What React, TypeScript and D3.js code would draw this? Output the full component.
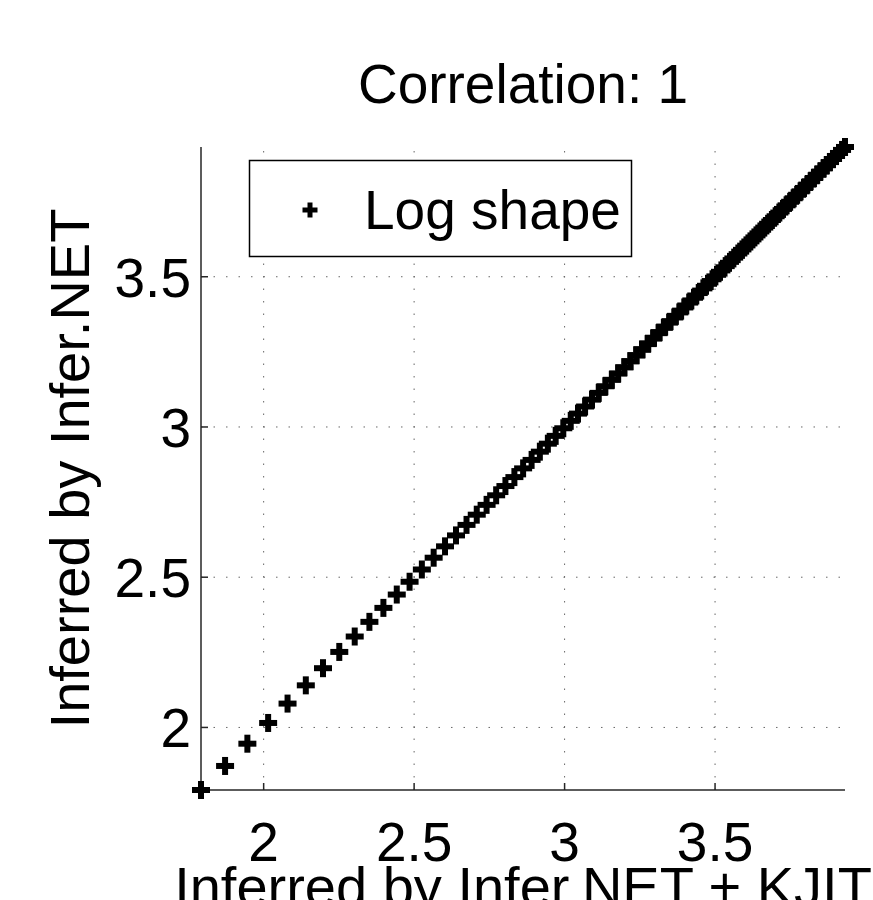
import React from "react";
import * as d3 from "d3";

// Posterior log-shape estimates; both inference runs agree point for point.
const kjitValues = [
  1.7918, 1.8718, 1.9459, 2.0149, 2.0794, 2.1401, 2.1972, 2.2513, 2.3026, 2.3514,
  2.3979, 2.4423, 2.4849, 2.5257, 2.5649, 2.6027, 2.6391, 2.6741, 2.7081, 2.7408,
  2.7726, 2.8034, 2.8332, 2.8622, 2.8904, 2.9178, 2.9444, 2.9704, 2.9957, 3.0204,
  3.0445, 3.0681, 3.091, 3.1135, 3.1355, 3.157, 3.1781, 3.1987, 3.2189, 3.2387,
  3.2581, 3.2771, 3.2958, 3.3142, 3.3322, 3.3499, 3.3673, 3.3844, 3.4012, 3.4177,
  3.434, 3.45, 3.4657, 3.4812, 3.4965, 3.5115, 3.5264, 3.541, 3.5553, 3.5695,
  3.5835, 3.5973, 3.6109, 3.6243, 3.6376, 3.6507, 3.6636, 3.6763, 3.6889, 3.7013,
  3.7136, 3.7257, 3.7377, 3.7495, 3.7612, 3.7728, 3.7842, 3.7955, 3.8067, 3.8177,
  3.8286, 3.8395, 3.8501, 3.8607, 3.8712, 3.8816, 3.8918, 3.902, 3.912, 3.922,
  3.9318,
];
const inferNetValues = [
  1.7918, 1.8718, 1.9459, 2.0149, 2.0794, 2.1401, 2.1972, 2.2513, 2.3026, 2.3514,
  2.3979, 2.4423, 2.4849, 2.5257, 2.5649, 2.6027, 2.6391, 2.6741, 2.7081, 2.7408,
  2.7726, 2.8034, 2.8332, 2.8622, 2.8904, 2.9178, 2.9444, 2.9704, 2.9957, 3.0204,
  3.0445, 3.0681, 3.091, 3.1135, 3.1355, 3.157, 3.1781, 3.1987, 3.2189, 3.2387,
  3.2581, 3.2771, 3.2958, 3.3142, 3.3322, 3.3499, 3.3673, 3.3844, 3.4012, 3.4177,
  3.434, 3.45, 3.4657, 3.4812, 3.4965, 3.5115, 3.5264, 3.541, 3.5553, 3.5695,
  3.5835, 3.5973, 3.6109, 3.6243, 3.6376, 3.6507, 3.6636, 3.6763, 3.6889, 3.7013,
  3.7136, 3.7257, 3.7377, 3.7495, 3.7612, 3.7728, 3.7842, 3.7955, 3.8067, 3.8177,
  3.8286, 3.8395, 3.8501, 3.8607, 3.8712, 3.8816, 3.8918, 3.902, 3.912, 3.922,
  3.9318,
];
const xTicks = [2, 2.5, 3, 3.5];
const yTicks = [2, 2.5, 3, 3.5];
const xDomain = [1.7918, 3.9318];
const yDomain = [1.7918, 3.9318];

const titleText = "Correlation: 1";
const xLabel = "Inferred by Infer.NET + KJIT";
const yLabel = "Inferred by Infer.NET";
const legendLabel = "Log shape";

const W = 873;
const H = 900;
const plot = { left: 201, right: 845, top: 147, bottom: 790 };
const FONT = "'Liberation Sans', Arial, Helvetica, sans-serif";
const FS = 55;

function Plus({ x, y, size, sw }: { x: number; y: number; size: number; sw: number }) {
  const h = size / 2;
  return (
    <g>
      <line x1={x - h} x2={x + h} y1={y} y2={y} stroke="#000" strokeWidth={sw} />
      <line x1={x} x2={x} y1={y - h} y2={y + h} stroke="#000" strokeWidth={sw} />
    </g>
  );
}

export default function App() {
  const x = d3.scaleLinear().domain(xDomain).range([plot.left, plot.right]);
  const y = d3.scaleLinear().domain(yDomain).range([plot.bottom, plot.top]);
  const fmt = d3.format("~g");
  const cx = (plot.left + plot.right) / 2;
  const cy = (plot.top + plot.bottom) / 2;

  return (
    <svg
      width={W}
      height={H}
      style={{ position: "absolute", left: 0, top: 0, background: "#fff" }}
      fontFamily={FONT}
    >
      <rect x={0} y={0} width={W} height={H} fill="#fff" />

      {/* dotted grid */}
      <g stroke="#666" strokeWidth={1} strokeDasharray="1.5 11">
        {xTicks.map((t) => (
          <line key={"gx" + t} x1={x(t)} x2={x(t)} y1={plot.bottom} y2={plot.top} />
        ))}
        {yTicks.map((t) => (
          <line key={"gy" + t} x1={plot.left} x2={plot.right} y1={y(t)} y2={y(t)} />
        ))}
      </g>

      {/* axes */}
      <g stroke="#262626" strokeWidth={1.5}>
        <line x1={plot.left} x2={plot.left} y1={plot.top} y2={plot.bottom} />
        <line x1={plot.left} x2={plot.right} y1={plot.bottom} y2={plot.bottom} />
        {xTicks.map((t) => (
          <line key={"tx" + t} x1={x(t)} x2={x(t)} y1={plot.bottom} y2={plot.bottom - 7} />
        ))}
        {yTicks.map((t) => (
          <line key={"ty" + t} x1={plot.left} x2={plot.left + 7} y1={y(t)} y2={y(t)} />
        ))}
      </g>

      {/* tick labels */}
      <g fontSize={FS} fill="#000">
        {xTicks.map((t) => (
          <text key={"lx" + t} x={x(t)} y={861} textAnchor="middle">
            {fmt(t)}
          </text>
        ))}
        {yTicks.map((t) => (
          <text key={"ly" + t} x={191} y={y(t) + 20} textAnchor="end">
            {fmt(t)}
          </text>
        ))}
      </g>

      {/* points */}
      <g>
        {kjitValues.map((v, i) => (
          <Plus key={i} x={x(v)} y={y(inferNetValues[i])} size={18} sw={6} />
        ))}
      </g>

      {/* legend */}
      <rect x={249.5} y={160.5} width={382} height={96} fill="#fff" stroke="#000" strokeWidth={1.5} />
      <Plus x={310} y={210} size={15} sw={5} />
      <text x={364} y={229} fontSize={FS} fill="#000">
        {legendLabel}
      </text>

      {/* title and axis labels */}
      <text x={cx} y={103} fontSize={FS} textAnchor="middle" fill="#000">
        {titleText}
      </text>
      <text x={cx} y={906} fontSize={56} textAnchor="middle" fill="#000">
        {xLabel}
      </text>
      <text
        transform={`translate(89, ${cy}) rotate(-90)`}
        fontSize={56}
        textAnchor="middle"
        fill="#000"
      >
        {yLabel}
      </text>
    </svg>
  );
}
